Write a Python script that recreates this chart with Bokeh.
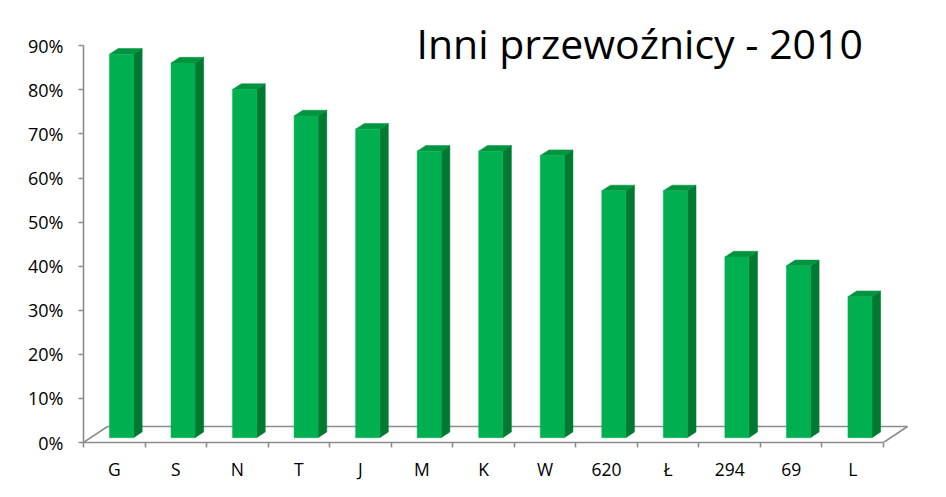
from bokeh.plotting import figure
from bokeh.models import Range1d, FixedTicker
from bokeh.core.properties import value
from bokeh.embed import file_html
from bokeh.resources import INLINE

# ---- data ----
categories = ["G", "S", "N", "T", "J", "M", "K", "W", "620", "Ł", "294", "69", "L"]
shares = [87, 85, 79, 73, 70, 65, 65, 64, 56, 56, 41, 39, 32]
y_ticks = [0, 10, 20, 30, 40, 50, 60, 70, 80, 90]
title_text = "Inni przewoźnicy - 2010"

# ---- geometry (pixels -> data units) ----
W, H = 946, 497
px_x = 61.54          # pixels per category
px_y = 4.408          # pixels per percent
left_b, right_b, top_b, bot_b = 83, 31, 18, 55
frame_w = W - left_b - right_b
frame_h = H - top_b - bot_b
x0 = -0.5
x_end = x0 + frame_w / px_x
y_end = frame_h / px_y

fdx, fdy = 24 / px_x, 16 / px_y          # floor depth offset
sx, sy = 0.3 * fdx, 0.3 * fdy            # bar front placement in depth
bdx, bdy = 8.7 / px_x, 5.7 / px_y        # bar depth
hw = 12 / px_x                           # bar half width

p = figure(width=W, height=H, output_backend="svg", toolbar_location=None,
           x_range=Range1d(x0, x_end), y_range=Range1d(0, y_end),
           min_border_left=left_b, min_border_right=right_b,
           min_border_top=top_b, min_border_bottom=bot_b)
p.outline_line_color = None
p.xgrid.visible = False
p.ygrid.visible = False
p.background_fill_color = "white"
p.border_fill_color = "white"

axis_col = "#8C8C8C"
n = len(categories)

# floor (drawn behind bars)
xl, xr = x0, x0 + n
p.multi_line(xs=[[xl + fdx, xr + fdx], [xl, xl + fdx], [xr, xr + fdx]],
             ys=[[fdy, fdy], [0, fdy], [0, fdy]],
             line_color=axis_col, line_width=1.6)

# bars
front_x, front_y, side_x, side_y, top_x, top_y = [], [], [], [], [], []
for i, v in enumerate(shares):
    a = i - hw + sx
    b = i + hw + sx
    base = sy
    t = v + sy
    front_x.append([a, b, b, a]); front_y.append([base, base, t, t])
    side_x.append([b, b + bdx, b + bdx, b]); side_y.append([base, base + bdy, t + bdy, t])
    top_x.append([a, b, b + bdx, a + bdx]); top_y.append([t, t, t + bdy, t + bdy])

p.patches(side_x, side_y, fill_color="#007A33", line_color="#007A33", line_width=0.5)
p.patches(top_x, top_y, fill_color="#009440", line_color="#009440", line_width=0.5)
p.patches(front_x, front_y, fill_color="#00B050", line_color="#00B050", line_width=0.5)

# axes
xa = p.xaxis[0]
xa.ticker = FixedTicker(ticks=list(range(n)), minor_ticks=[x0 + k for k in range(n + 1)])
xa.major_label_overrides = {i: c for i, c in enumerate(categories)}
xa.bounds = (x0, x0 + n)
xa.axis_line_color = axis_col
xa.axis_line_width = 1.6
xa.major_tick_out = 0
xa.major_tick_in = 0
xa.minor_tick_out = 5
xa.minor_tick_in = 0
xa.minor_tick_line_color = axis_col
xa.minor_tick_line_width = 1.6
xa.major_label_standoff = 9
xa.major_label_text_font = "Open Sans"
xa.major_label_text_font_size = "17.5px"
xa.major_label_text_color = "black"

ya = p.yaxis[0]
ya.ticker = FixedTicker(ticks=y_ticks, minor_ticks=[])
ya.major_label_overrides = {t: f"{t}%" for t in y_ticks}
ya.bounds = (0, 90)
ya.axis_line_color = axis_col
ya.axis_line_width = 1.6
ya.major_tick_out = 5
ya.major_tick_in = 0
ya.major_tick_line_color = axis_col
ya.major_tick_line_width = 1.6
ya.minor_tick_out = 0
ya.minor_tick_in = 0
ya.major_label_standoff = 15
ya.major_label_text_font = "Open Sans"
ya.major_label_text_font_size = "18px"
ya.major_label_text_color = "black"

# title
p.text(x=[x0 + (416 - 83) / px_x], y=[(442 - 42) / px_y], text=[title_text],
       text_font=value("Open Sans"), text_font_size="41px",
       text_align="left", text_baseline="alphabetic", text_color="black")

open("out.html", "w").write(file_html(p, INLINE))
